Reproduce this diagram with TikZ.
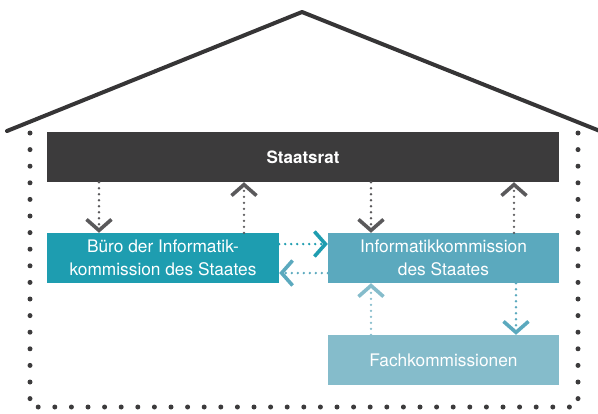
\documentclass[tikz,border=0pt]{standalone}
\usepackage{fontspec}
\setmainfont{TeX Gyre Heros}
\usetikzlibrary{arrows.meta}
\definecolor{cdark}{HTML}{3C3B3C}
\definecolor{cgray}{HTML}{5A595B}
\definecolor{cteal}{HTML}{1E9DB0}
\definecolor{cmid}{HTML}{5BA9BE}
\definecolor{clight}{HTML}{85BCCB}
\tikzset{
  box/.style={minimum width=232pt, minimum height=50pt, inner sep=0pt, text=white, font=\fontsize{17.3}{23}\selectfont, align=center},
  conn/.style={line width=2.6pt, dash pattern=on 0pt off 6pt, line cap=round,
    -{Straight Barb[length=11pt,width=25pt,line width=3.6pt]}},
}
\begin{document}
\begin{tikzpicture}[x=1pt,y=-1pt]
\useasboundingbox (0,0) rectangle (598,413);
% roof
\draw[line width=4pt, line cap=round, line join=round, cdark!90!black] (7,131) -- (302,12) -- (600,131);
% dotted frame
\draw[cdark, line width=5pt, line cap=round, dash pattern=on 0pt off 16.6pt] (30,133) -- (30,407) -- (579,407);
\draw[cdark, line width=5pt, line cap=round, dash pattern=on 0pt off 16.6pt] (578,133) -- (578,407);
% boxes
\node[box, fill=cdark, minimum width=512pt, font=\fontsize{17}{20}\selectfont\bfseries] (sr) at (303,157) {Staatsrat};
\node[box, fill=cteal] (buero) at (163,258) {Büro der Informatik-\\kommission des Staates};
\node[box, fill=cmid, minimum width=231pt] (ik) at (443.5,258) {Informatikkommission\\des Staates};
\node[box, fill=clight, minimum width=231pt] (fk) at (443.5,360) {Fachkommissionen};
% vertical connectors
\draw[conn, cgray] ([xshift=-64pt]sr.south -| buero.north) -- ([xshift=-64pt]buero.north);
\draw[conn, cgray] ([xshift=81pt]buero.north) -- ([xshift=81pt]sr.south -| buero.north);
\draw[conn, cgray] ([xshift=-72.5pt]sr.south -| ik.north) -- ([xshift=-72.5pt]ik.north);
\draw[conn, cgray] ([xshift=70.5pt]ik.north) -- ([xshift=70.5pt]sr.south -| ik.north);
\draw[conn, clight] ([xshift=-72.5pt]fk.north) -- ([xshift=-72.5pt]ik.south);
\draw[conn, cmid] ([xshift=72.5pt]ik.south) -- ([xshift=72.5pt]fk.north);
% horizontal connectors
\draw[conn, cteal] ([yshift=14pt]buero.east) -- ([yshift=14pt]ik.west);
\draw[conn, cmid] ([yshift=-15pt]ik.west) -- ([yshift=-15pt]buero.east);
\end{tikzpicture}
\end{document}
